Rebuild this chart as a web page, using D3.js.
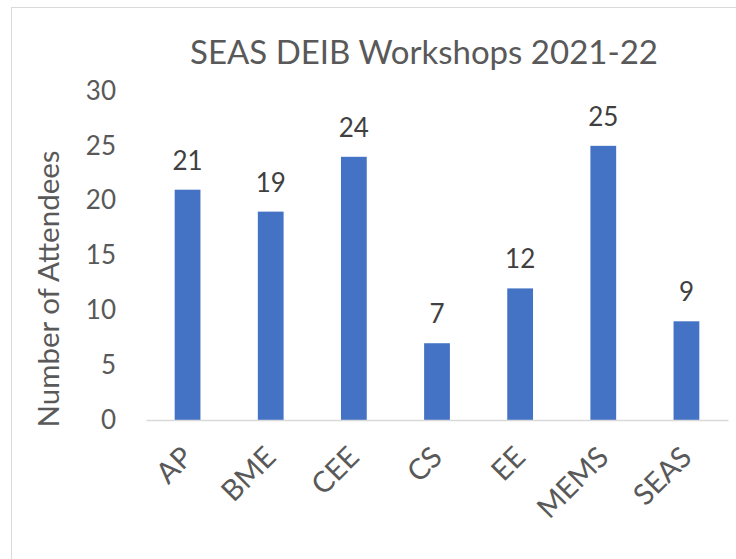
<!DOCTYPE html>
<html><head><meta charset="utf-8">
<script src="https://cdn.jsdelivr.net/npm/d3@7"></script>
<style>body{margin:0;background:#fff}svg{display:block}</style>
</head><body>
<script>
const categories = ["AP","BME","CEE","CS","EE","MEMS","SEAS"];
const values = [21,19,24,7,12,25,9];
const yTicks = [0,5,10,15,20,25,30];
const title = "SEAS DEIB Workshops 2021-22";
const yTitle = "Number of Attendees";

const W = 736, H = 559;
const font = "Lato, 'Open Sans', sans-serif";
const svg = d3.select("body").append("svg").attr("width", W).attr("height", H);
svg.append("rect").attr("x", 11.5).attr("y", 7.5).attr("width", 800).attr("height", 700)
  .attr("fill", "#fff").attr("stroke", "#d9d9d9");

const x = d3.scaleBand().domain(categories).range([146, 728]).paddingInner(0.69).paddingOuter(0.345);
const y = d3.scaleLinear().domain([0, 30]).range([420, 91]);

svg.append("text").attr("x", 424).attr("y", 64).attr("text-anchor", "middle")
  .attr("font-family", font).attr("font-size", 33).attr("fill", "#595959").text(title);

const ya = svg.append("g").attr("transform", "translate(116,0)")
  .call(d3.axisLeft(y).tickValues(yTicks).tickSize(0).tickPadding(0));
ya.select(".domain").remove();
ya.selectAll("text").attr("font-family", font).attr("font-size", 26).attr("fill", "#595959");

svg.append("text").attr("transform", "translate(59,289) rotate(-90)").attr("text-anchor", "middle")
  .attr("font-family", font).attr("font-size", 29.5).attr("fill", "#595959").text(yTitle);

svg.selectAll("rect.bar").data(values).join("rect").attr("class", "bar")
  .attr("x", (d, i) => x(categories[i])).attr("width", x.bandwidth())
  .attr("y", d => y(d)).attr("height", d => y(0) - y(d)).attr("fill", "#4472c4");

svg.selectAll("text.val").data(values).join("text").attr("class", "val")
  .attr("x", (d, i) => x(categories[i]) + x.bandwidth() / 2).attr("y", d => y(d) - 20)
  .attr("text-anchor", "middle").attr("font-family", font).attr("font-size", 26).attr("fill", "#404040")
  .text(d => d);

const xa = svg.append("g").attr("transform", "translate(0,420)")
  .call(d3.axisBottom(x).tickSize(0).tickPadding(0));
xa.select(".domain").attr("stroke", "#d9d9d9").attr("stroke-width", 1.5);
xa.selectAll("text").attr("font-family", font).attr("font-size", 29).attr("fill", "#595959")
  .attr("text-anchor", "end").attr("dy", 0)
  .attr("transform", "translate(7,39) rotate(-45)");
</script>
</body></html>
